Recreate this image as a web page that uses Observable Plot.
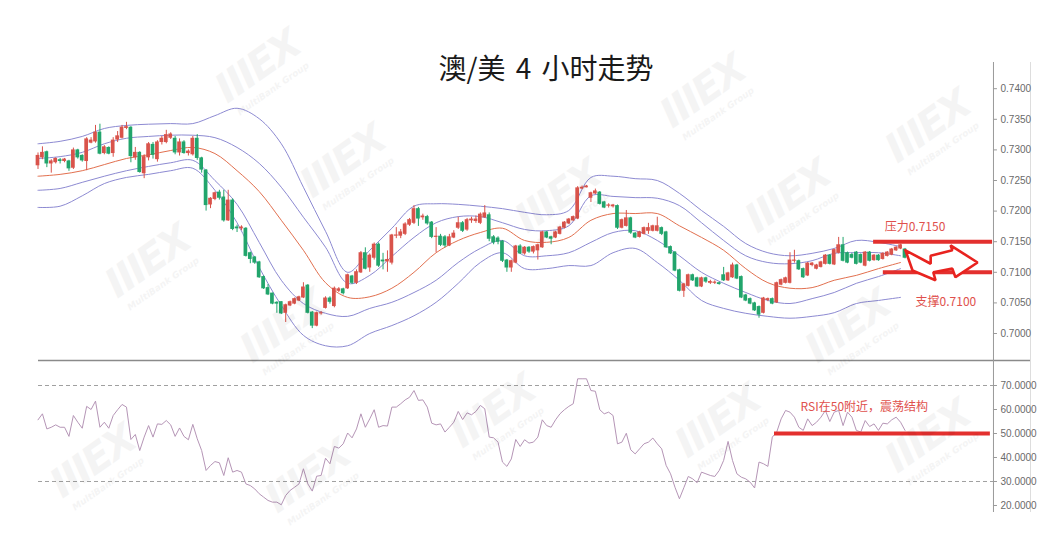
<!DOCTYPE html>
<html><head><meta charset="utf-8">
<script src="https://cdn.jsdelivr.net/npm/d3@7"></script>
<script src="https://cdn.jsdelivr.net/npm/@observablehq/plot@0.6"></script>
<style>
html,body{margin:0;padding:0;background:#fff;}
#root{position:relative;width:1044px;height:543px;overflow:hidden;background:#fff;}
#root svg{position:absolute;left:0;}
.title{position:absolute;left:346px;top:49px;width:400px;text-align:center;font:28px/36px "Noto Sans CJK SC",sans-serif;color:#1a1a1a;word-spacing:4px;}
.wm{position:absolute;transform:translate(-50%,-50%) rotate(-35deg);color:#000;opacity:0.04;white-space:nowrap;pointer-events:none;text-align:center;line-height:1;}
.wm b{display:block;font:italic 900 40px "DejaVu Sans",sans-serif;letter-spacing:-2px;}
.wm i{display:block;font:italic 700 9px "DejaVu Sans",sans-serif;}
</style></head><body><div id="root"></div>
<script>
// ---------- data (prices as pips above 0.7000) ----------
const BASE = 0.7;
const openPips = [275,288,296,278,280,283,282,281,271,299, 290,282,312,314,328,295,303,295,317,320,
 336,336,288,295,262,288,308,285,313,313, 320,318,296,312,295,293,318,286,266,211,
 220,230,222,185,217,173,172,171,131,124, 116,92,74,65,50,51,34,46,49,54,
 59,78,34,13,33,42,57,45,70,72, 74,93,83,100,131,108,124,145,119,118,
 116,160,160,163,178,181,203,190,190,181, 158,158,157,144,157,173,180,170,185,184,
 181,190,193,157,155,150,119,108,116,142, 131,140,134,136,141,165,157,157,163,173,
 180,185,188,237,239,222,229,230,214,209, 208,208,173,176,188,163,158,163,168,168,
 168,172,165,141,132,103,70,78,95,90, 77,90,83,83,82,95,87,92,111,92,
 62,56,49,43,34,55,56,51,80,83, 83,119,118,105,95,112,106,109,114,127,
 113,132,144,131,128,132,128,111,132,120, 127,122,127,129,136,139,137];
const closePips = [290,295,278,281,285,282,284,270,299,288, 283,317,315,328,294,304,294,315,322,336,
 337,290,295,264,288,309,292,312,318,324, 325,296,312,295,297,318,287,268,210,220,
 229,222,185,217,171,172,173,127,122,116, 92,74,64,49,49,33,46,51,56,59,
 75,34,13,33,33,57,52,73,72,66, 95,83,100,131,106,127,145,111,118,120,
 160,160,165,178,185,203,188,191,180,158, 158,145,144,157,163,180,168,185,186,186,
 194,196,155,149,150,119,108,118,142,131, 140,134,141,144,165,157,155,165,173,181,
 186,190,237,238,240,229,232,212,206,209, 209,173,185,188,165,157,165,172,172,175,
 175,163,141,131,103,70,80,95,87,77, 90,85,84,83,81,87,98,111,90,59,
 54,49,38,31,57,56,49,82,87,90, 119,119,105,92,114,114,111,116,127,114,
 136,144,119,116,124,114,116,132,119,127, 120,130,132,137,140,144,124];
const highPips = [295,305,298,284,287,286,286,283,303,301, 292,320,320,340,342,307,305,320,330,340,
 345,338,304,297,292,312,312,315,322,332, 328,322,318,315,300,322,325,288,268,222,
 231,234,234,234,220,177,176,173,133,126, 118,94,80,66,52,52,48,53,58,61,
 83,80,36,35,36,60,60,76,75,74, 97,95,104,134,140,130,148,148,131,135,
 162,173,170,181,188,209,206,195,193,183, 173,162,160,162,168,190,183,188,190,192,
 197,209,197,160,158,152,121,120,144,145, 142,142,143,146,167,167,159,167,175,183,
 188,192,240,241,242,231,236,232,216,212, 211,210,187,201,190,165,167,174,180,177,
 190,174,167,143,134,105,82,97,97,92, 92,92,87,86,84,108,100,115,113,94,
 64,58,51,45,59,58,58,84,89,92, 132,136,120,107,116,116,113,118,129,129,
 138,157,157,133,131,134,130,134,134,129, 129,132,134,139,142,146,139];
const lowPips = [268,284,271,262,277,277,279,265,268,285, 280,266,310,311,292,292,292,288,312,318,
 333,279,283,262,253,282,285,280,308,310, 317,292,290,293,290,290,283,262,200,204,
 217,218,182,183,168,165,168,125,114,113, 90,72,62,47,33,31,18,44,47,52,
 57,32,8,11,30,40,48,42,67,63, 72,80,80,98,104,100,120,108,104,100,
 112,155,155,160,175,178,175,185,177,155, 132,142,140,142,155,170,165,167,180,180,
 178,188,150,145,145,116,100,100,114,129, 128,131,130,120,139,155,145,155,161,171,
 178,183,186,235,238,214,227,210,204,205, 205,170,171,174,162,155,156,161,162,166,
 166,160,139,129,101,68,59,76,85,75, 75,82,80,80,79,85,85,90,88,57,
 52,47,36,25,32,52,47,49,78,81, 81,115,103,90,93,109,104,107,112,112,
 111,130,117,114,122,112,114,109,117,118, 118,120,125,127,134,137,122];

// band lines read every 5 candles (pips above 0.7000)
const bandIndex = [0,5,10,15,20,25,30,35,40,45,50,55,60,65,70,75,80,85,90,95,100,105,110,115,120,125,130,135,140,145,150,155,160,165,170,175,180,185,190,195];
const upperOuter = [310,314,322,335,340,342,343,343,356,368,351,310,239,167,100,136,172,208,212,211,208,204,198,194,201,255,257,253,250,229,201,175,147,132,127,131,139,152,149,142];
const upperInner = [286,289,296,310,319,322,324,324,320,304,278,239,190,141,82,95,126,157,181,191,191,181,170,168,176,225,224,222,221,209,181,152,127,116,114,119,131,132,132,127];
const middle     = [257,260,266,276,286,292,299,304,294,266,232,185,136,83,59,60,74,100,132,152,165,172,152,149,157,185,196,196,196,176,157,136,106,83,74,75,87,95,106,116];
const lowerInner = [234,237,247,257,266,273,279,283,250,211,149,87,49,33,28,41,51,67,87,116,139,152,127,127,132,149,165,168,152,127,100,82,67,54,49,57,67,82,93,106];
const lowerOuter = [206,208,225,245,255,260,266,270,234,181,108,46,-3,-20,-20,0,13,29,51,82,116,132,106,106,111,111,132,139,116,87,54,41,33,28,25,28,34,49,54,59];

const rsiValues = [55.7,58.2,51.9,52.6,53.6,52.6,52.6,48.8,57.5,54.7,
 52.2,61.3,60.0,63.5,52.6,54.7,52.2,57.5,59.9,62.1,
 61.0,47.5,49.6,42.9,48.5,53.3,48.5,54.0,53.8,55.4,
 53.6,48.8,52.3,48.8,47.4,53.8,47.8,42.9,34.6,36.7,
 38.3,37.8,32.5,39.9,33.9,34.6,33.9,29.0,28.3,26.9,
 24.9,23.5,22.1,21.4,21.4,20.3,24.2,26.3,27.6,29.0,
 35.3,29.0,26.0,32.2,32.5,39.7,37.4,44.6,43.9,45.7,
 50.2,48.2,51.9,58.2,52.6,56.1,59.9,52.6,53.3,53.1,
 61.0,61.0,62.4,64.0,65.1,67.9,63.8,64.0,61.0,54.3,
 53.6,54.0,50.6,52.6,54.7,59.2,55.8,58.6,57.8,59.2,
 61.7,60.3,48.5,48.2,46.4,38.1,36.3,39.4,47.5,44.6,
 47.4,46.0,46.4,48.5,55.7,53.3,52.6,55.7,58.2,59.9,
 61.3,62.4,72.8,72.8,72.8,67.9,67.6,59.9,58.2,58.9,
 57.5,45.7,46.4,50.1,43.2,41.5,43.6,45.7,46.4,48.1,
 45.7,43.6,36.7,33.2,27.6,22.8,27.4,32.1,31.1,29.5,
 33.9,33.2,32.5,32.1,34.6,38.8,46.7,38.8,33.2,31.8,
 31.1,29.7,27.3,38.1,37.4,36.3,48.5,50.6,56.1,59.6,
 58.9,56.8,52.6,51.3,56.1,53.3,54.7,56.8,59.6,55.0,
 58.9,59.6,53.3,58.9,56.8,51.3,50.6,55.4,52.9,54.0,
 51.3,54.3,54.0,55.7,56.8,54.7,51.3];

const priceTicks = [0.7000,0.7050,0.7100,0.7150,0.7200,0.7250,0.7300,0.7350,0.7400];
const rsiTicks = [20,30,40,50,60,70];
const rsiGuides = [30,70];
const titleText = "澳/美 4 小时走势";

// annotations (data space: candle index, price)
const levels = [
  {label:"压力0.7150", price:0.7150, from:188.9, textAt:191.4, textPrice:0.71745},
  {label:"支撑0.7100", price:0.7100, from:191.1, textAt:198.4, textPrice:0.70505}
];
const arrowIdx  = [196.1,201.8,201.8,206.7,206.3,212.4,207.4,206.7,202.4,202.9,197.7,196.1];
const arrowPips = [136,114,127,136,144,116,92,106,100,87,103,136];
const rsiLevel = {value:50, from:166.5, to:215.3, label:"RSI在50附近，震荡结构", textAt:172.4, textValue:60.8};

// ---------- build tables ----------
const P = p => BASE + p/10000;
const candles = openPips.map((o,i)=>({i, open:P(o), close:P(closePips[i]), high:P(highPips[i]), low:P(lowPips[i])}));
const up = candles.filter(d=>d.close>=d.open), down = candles.filter(d=>d.close<d.open);
const bands = bandIndex.map((x,k)=>({x, u2:P(upperOuter[k]), u1:P(upperInner[k]), m:P(middle[k]), l1:P(lowerInner[k]), l2:P(lowerOuter[k])}));
const arrow = arrowIdx.map((x,k)=>({x, y:P(arrowPips[k])}));

const RED="#d9534b", GREEN="#22a56c", BAND="#8d8ad2", MID="#e2704f", ANN="#e3302e", ANNTXT="#e0504c";
const XD=[0.113,224.37], AX=216;
const font = "Liberation Sans, Arial, sans-serif";
const cjk = "Noto Sans CJK SC, sans-serif";

function bodyMarks(arr, color){
  return [
    Plot.ruleX(arr,{x:"i",y1:"low",y2:"high",stroke:color,strokeWidth:1}),
    Plot.rect(arr,{x1:d=>d.i-0.42,x2:d=>d.i+0.42,y1:d=>Math.min(d.open,d.close),y2:d=>Math.max(d.open,d.close),fill:color,insetTop:-0.6,insetBottom:-0.6})
  ];
}
const bandLine = (key,color) => Plot.line(bands,{x:"x",y:key,stroke:color,strokeWidth:1,curve:"catmull-rom"});

const pricePlot = Plot.plot({
  width:1044, height:360, marginLeft:38, marginRight:14, marginTop:62, marginBottom:0,
  x:{domain:XD, axis:null}, y:{domain:[0.69559,0.74428], axis:null},
  style:{background:"transparent", overflow:"visible", fontFamily:font},
  marks:[
    bandLine("u2",BAND), bandLine("u1",BAND), bandLine("l1",BAND), bandLine("l2",BAND), bandLine("m",MID),
    ...bodyMarks(up,RED), ...bodyMarks(down,GREEN),
    Plot.ruleY(levels,{y:"price",x1:"from",x2:215.8,stroke:ANN,strokeWidth:4}),
    Plot.text(levels,{x:"textAt",y:"textPrice",text:"label",fill:ANNTXT,fontSize:12,textAnchor:"start",fontFamily:cjk}),
    Plot.line(arrow,{x:"x",y:"y",stroke:"#e8231f",strokeWidth:2.6,fill:"white",strokeLinejoin:"miter"}),
    Plot.ruleX([AX],{stroke:"#9a9a9a"}),
    Plot.ruleX([XD[1]],{stroke:"#dddddd"}),
    Plot.ruleY(priceTicks,{x1:AX,x2:AX+0.9,stroke:"#9a9a9a"}),
    Plot.text(priceTicks,{x:AX,y:d=>d,dx:7,text:d=>d.toFixed(4),textAnchor:"start",fontSize:10,fill:"#6a6a6a"})
  ]
});
pricePlot.style.top="0px";

const rsiPlot = Plot.plot({
  width:1044, height:153, marginLeft:38, marginRight:14, marginTop:1, marginBottom:0,
  x:{domain:XD, axis:null}, y:{domain:[17.08,80.42], axis:null},
  style:{background:"transparent", overflow:"visible", fontFamily:font},
  marks:[
    Plot.ruleY([80.42],{x1:XD[0],x2:XD[1],stroke:"#8a8a8a",strokeWidth:1.3}),
    Plot.ruleY(rsiGuides,{x1:XD[0],x2:AX,stroke:"#a0a0a0",strokeDasharray:"4,3"}),
    Plot.line(rsiValues,{x:(d,i)=>i,y:d=>d,stroke:"#b595b6",strokeWidth:1}),
    Plot.ruleY([rsiLevel],{y:"value",x1:"from",x2:"to",stroke:ANN,strokeWidth:4}),
    Plot.text([rsiLevel],{x:"textAt",y:"textValue",text:"label",fill:ANNTXT,fontSize:12,textAnchor:"start",fontFamily:cjk}),
    Plot.ruleX([AX],{stroke:"#9a9a9a"}),
    Plot.ruleX([XD[1]],{stroke:"#dddddd"}),
    Plot.ruleY(rsiTicks,{x1:AX,x2:AX+0.9,stroke:"#9a9a9a"}),
    Plot.text(rsiTicks,{x:AX,y:d=>d,dx:7,text:d=>d.toFixed(4),textAnchor:"start",fontSize:10,fill:"#6a6a6a"})
  ]
});
rsiPlot.style.top="359px";

const root=document.getElementById("root");
root.appendChild(pricePlot);
root.appendChild(rsiPlot);
const t=document.createElement("div"); t.className="title"; t.textContent=titleText; root.appendChild(t);

// faint watermark layer (kept fully inside the frame)
const wmSpots=[[260,70],[705,95],[930,130],[150,265],[345,165],[560,200],[790,200],[285,330],[850,330],[495,415],[720,425],[930,440],[95,465],[310,480]];
wmSpots.forEach(([x,y])=>{const w=document.createElement("div");w.className="wm";w.style.left=x+"px";w.style.top=y+"px";w.innerHTML="<b>IIIEX</b><i>MultiBank Group</i>";root.appendChild(w);});
</script></body></html>
